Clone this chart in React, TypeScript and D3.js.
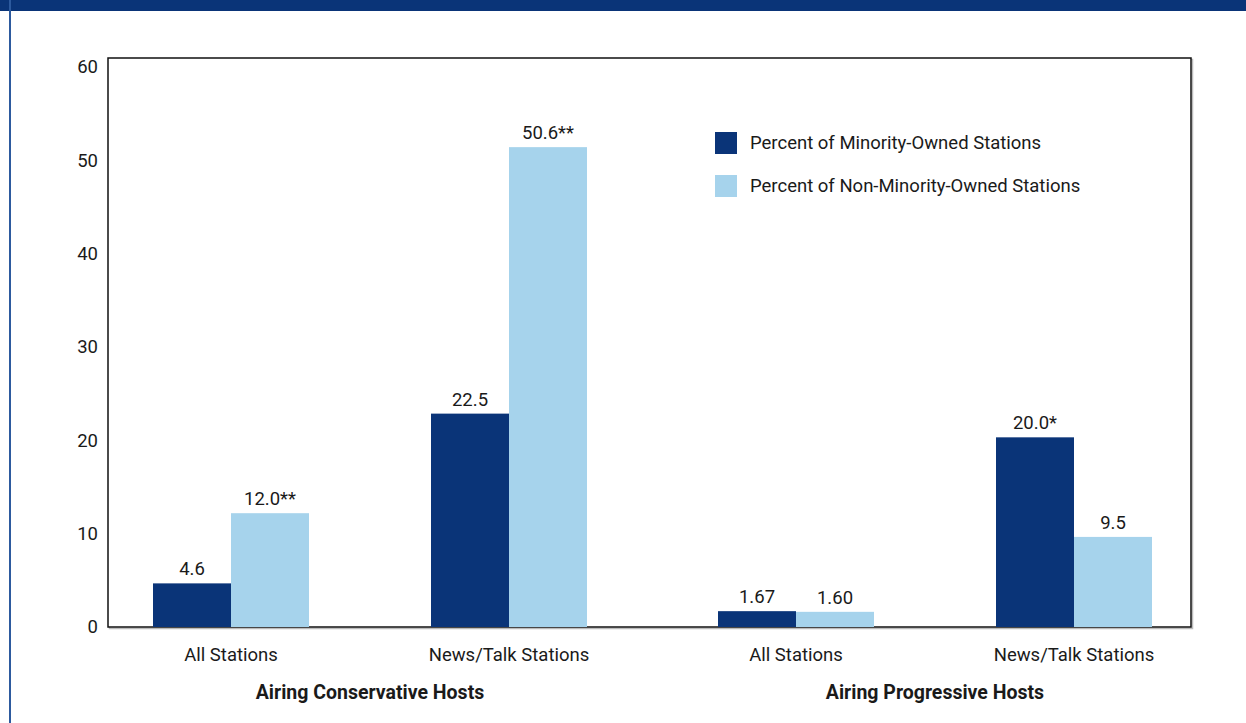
import { useEffect, useRef } from 'react'
import * as d3 from 'd3'

const groups = ['Airing Conservative Hosts', 'Airing Progressive Hosts']
const categories = ['All Stations', 'News/Talk Stations']
const minorityValues = [4.6, 22.5, 1.67, 20.0]
const nonMinorityValues = [12.0, 50.6, 1.6, 9.5]
const minorityLabels = ['4.6', '22.5', '1.67', '20.0*']
const nonMinorityLabels = ['12.0**', '50.6**', '1.60', '9.5']
const seriesNames = ['Percent of Minority-Owned Stations', 'Percent of Non-Minority-Owned Stations']
const yTicks = [0, 10, 20, 30, 40, 50, 60]

const DARK = '#0a3478'
const LIGHT = '#a6d3ec'
const FONT = 'Roboto, "Open Sans", sans-serif'

const App = () => {
  const svgRef = useRef<SVGSVGElement | null>(null)

  useEffect(() => {
    if (!svgRef.current) return
    const svg = d3.select(svgRef.current)
    svg.selectAll('*').remove()

    const width = 1246
    const height = 723
    const box = { left: 108, right: 1191, top: 58, bottom: 627 }

    svg.attr('width', width).attr('height', height)

    svg.append('rect').attr('x', 0).attr('y', 0).attr('width', width).attr('height', height).attr('fill', 'white')

    // top band and left border
    svg.append('rect').attr('x', 0).attr('y', 0).attr('width', width).attr('height', 11).attr('fill', DARK)
    svg.append('rect').attr('x', 9).attr('y', 0).attr('width', 2).attr('height', height).attr('fill', '#2d5a9e')

    const y = d3.scaleLinear().domain([0, 60]).range([box.bottom, box.top])
    // tick labels sit on a slightly tighter spacing than the bars
    const yLabel = d3.scaleLinear().domain([0, 60]).range([box.bottom, 67])

    // group centres and category offsets within a group
    const xGroup = d3.scalePoint<string>().domain(groups).range([370, 935])
    const xInner = d3.scalePoint<string>().domain(categories).range([-139, 139])
    const barW = 78

    const bars = groups.flatMap((grp, gi) =>
      categories.map((cat, ci) => ({
        grp,
        cat,
        cx: xGroup(grp)! + xInner(cat)!,
        min: minorityValues[gi * 2 + ci],
        non: nonMinorityValues[gi * 2 + ci],
        minLabel: minorityLabels[gi * 2 + ci],
        nonLabel: nonMinorityLabels[gi * 2 + ci],
      }))
    )

    // plot box with faint shadow
    svg.append('rect')
      .attr('x', box.left + 1.5)
      .attr('y', box.top + 1.5)
      .attr('width', box.right - box.left)
      .attr('height', box.bottom - box.top)
      .attr('fill', 'none')
      .attr('stroke', '#bbb')
      .attr('stroke-width', 1.5)
    svg.append('rect')
      .attr('x', box.left)
      .attr('y', box.top)
      .attr('width', box.right - box.left)
      .attr('height', box.bottom - box.top)
      .attr('fill', 'white')
      .attr('stroke', '#111')
      .attr('stroke-width', 1.5)

    const textAttrs = (sel: any, size = 18.5) =>
      sel
        .attr('text-anchor', 'middle')
        .attr('font-family', FONT)
        .attr('font-size', size)
        .attr('fill', '#1a1a1a')

    // y tick labels
    svg.append('g')
      .selectAll('text')
      .data(yTicks)
      .join('text')
      .call(textAttrs)
      .attr('x', 98)
      .attr('y', (d) => yLabel(d))
      .attr('dy', '0.35em')
      .attr('text-anchor', 'end')
      .text((d) => d)

    const g = svg.append('g')

    // minority bars
    g.selectAll('rect.min')
      .data(bars)
      .join('rect')
      .attr('class', 'min')
      .attr('x', (d) => d.cx - barW)
      .attr('y', (d) => y(d.min))
      .attr('width', barW)
      .attr('height', (d) => box.bottom - y(d.min))
      .attr('fill', DARK)

    // non-minority bars
    g.selectAll('rect.non')
      .data(bars)
      .join('rect')
      .attr('class', 'non')
      .attr('x', (d) => d.cx)
      .attr('y', (d) => y(d.non))
      .attr('width', barW)
      .attr('height', (d) => box.bottom - y(d.non))
      .attr('fill', LIGHT)

    // value labels
    g.selectAll('text.minl')
      .data(bars)
      .join('text')
      .attr('class', 'minl')
      .call(textAttrs)
      .attr('x', (d) => d.cx - barW / 2)
      .attr('y', (d) => y(d.min) - 8)
      .text((d) => d.minLabel)

    g.selectAll('text.nonl')
      .data(bars)
      .join('text')
      .attr('class', 'nonl')
      .call(textAttrs)
      .attr('x', (d) => d.cx + barW / 2)
      .attr('y', (d) => y(d.non) - 8)
      .text((d) => d.nonLabel)

    // category labels
    g.selectAll('text.cat')
      .data(bars)
      .join('text')
      .attr('class', 'cat')
      .call(textAttrs)
      .attr('x', (d) => d.cx)
      .attr('y', 661)
      .text((d) => d.cat)

    // group labels
    svg.append('g')
      .selectAll('text')
      .data(groups)
      .join('text')
      .call(textAttrs, 19.5)
      .attr('x', (d) => xGroup(d)!)
      .attr('y', 699)
      .attr('font-weight', 'bold')
      .text((d) => d)

    // legend
    const legend = svg.append('g').attr('transform', 'translate(715, 132)')
    const items = legend
      .selectAll('g')
      .data(seriesNames)
      .join('g')
      .attr('transform', (_, i) => `translate(0, ${i * 43})`)
    items.append('rect')
      .attr('width', 22)
      .attr('height', 22)
      .attr('fill', (_, i) => (i === 0 ? DARK : LIGHT))
    items.append('text')
      .call(textAttrs)
      .attr('text-anchor', 'start')
      .attr('x', 35)
      .attr('y', 11)
      .attr('dy', '0.35em')
      .text((d) => d)
  }, [])

  return <svg ref={svgRef} style={{ position: 'absolute', left: 0, top: 0, display: 'block' }}></svg>
}

export default App
